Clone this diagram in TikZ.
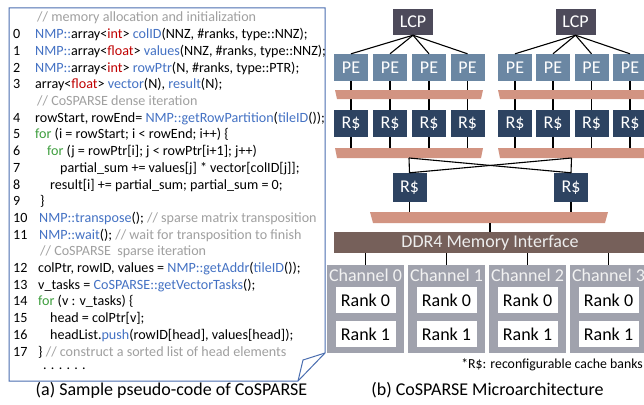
\documentclass[tikz,border=0pt]{standalone}
\usepackage{fontspec}
\setmainfont{Carlito}
\definecolor{cblue}{HTML}{4472C4}
\definecolor{cred}{HTML}{C00000}
\definecolor{cgreen}{HTML}{3E9E3E}
\definecolor{cgray}{HTML}{A0A0A0}
\definecolor{boxblue}{HTML}{4A6EB0}
\definecolor{lcpc}{HTML}{4D4A5A}
\definecolor{pec}{HTML}{6B87A3}
\definecolor{rcc}{HTML}{2D4361}
\definecolor{trapc}{HTML}{D29482}
\definecolor{ddrc}{HTML}{76605A}
\definecolor{chc}{HTML}{A0A2AD}
\newcommand\blu[1]{\textcolor{cblue}{#1}}
\newcommand\rd[1]{\textcolor{cred}{#1}}
\newcommand\grn[1]{\textcolor{cgreen}{#1}}
\newcommand\gry[1]{\textcolor{cgray}{#1}}
\tikzset{
  blk/.style={inner sep=0pt, text=white, font=\fontsize{18}{18}\selectfont},
  lcpbox/.style={blk, fill=lcpc, minimum width=40pt, minimum height=26pt},
  pebox/.style={blk, fill=pec, minimum width=34pt, minimum height=27pt},
  rcbox/.style={blk, fill=rcc, minimum width=34pt, minimum height=27pt},
  mrcbox/.style={blk, fill=rcc, minimum width=34pt, minimum height=29pt},
  codeline/.style={anchor=base west, inner sep=0pt, font=\fontsize{14.1}{16}\selectfont},
  wire/.style={draw=black, line width=1.1pt},
  trapfill/.style={fill=trapc},
  chanbox/.style={fill=chc, minimum width=77pt, minimum height=88pt, inner sep=0pt},
  chlab/.style={inner sep=0pt, text=white!95!black, font=\fontsize{18}{18}\selectfont},
  rankbox/.style={fill=white, minimum width=60pt, minimum height=26pt, inner sep=0pt, font=\fontsize{18}{18}\selectfont},
  captext/.style={inner sep=0pt, font=\fontsize{18}{18}\selectfont}
}
\begin{document}
\begin{tikzpicture}[x=1pt,y=-1pt]
\useasboundingbox (0,0) rectangle (644,404);
\clip (0,0) rectangle (644,404);
\fill[white] (0,0) rectangle (644,404);

% ---------- code box ----------
\draw[boxblue, line width=1pt] (9,8) -- (325,8) -- (325,353) -- (298,381) -- (9,381) -- cycle;
\draw[boxblue, line width=1pt] (298,381) -- (303,360) -- (325,353);

\node[codeline] (l0) at (37,22) {\gry{// memory allocation and initialization}};
\node[codeline] (n1) at (13,38.7) {0};
\node[codeline] (l1) at (35,38.7) {\blu{NMP::}array<\rd{int}> \blu{colID}(NNZ, \#ranks, type::NNZ);};
\node[codeline] (n2) at (13,55.4) {1};
\node[codeline] (l2) at (35,55.4) {\blu{NMP::}array<\rd{float}> \blu{values}(NNZ, \#ranks, type::NNZ);};
\node[codeline] (n3) at (13,72.1) {2};
\node[codeline] (l3) at (35,72.1) {\blu{NMP::}array<\rd{int}> \blu{rowPtr}(N, \#ranks, type::PTR);};
\node[codeline] (n4) at (13,88.8) {3};
\node[codeline] (l4) at (35,88.8) {array<\rd{float}> \blu{vector}(N), \blu{result}(N);};
\node[codeline] (l5) at (37,105.5) {\gry{// CoSPARSE dense iteration}};
\node[codeline] (n6) at (13,122.2) {4};
\node[codeline] (l6) at (35,122.2) {rowStart, rowEnd= \blu{NMP::getRowPartition}(\blu{tileID}());};
\node[codeline] (n7) at (13,138.9) {5};
\node[codeline] (l7) at (35,138.9) {\grn{for} (i = rowStart; i < rowEnd; i++) \{};
\node[codeline] (n8) at (13,155.6) {6};
\node[codeline] (l8) at (47,155.6) {\grn{for} (j = rowPtr[i]; j < rowPtr[i+1]; j++)};
\node[codeline] (n9) at (13,172.3) {7};
\node[codeline] (l9) at (60,172.3) {partial\_sum += values[j] * vector[colID[j]];};
\node[codeline] (n10) at (13,189) {8};
\node[codeline] (l10) at (50,189) {result[i] += partial\_sum; partial\_sum = 0;};
\node[codeline] (n11) at (13,205.7) {9};
\node[codeline] (l11) at (40,205.7) {\}};
\node[codeline] (n12) at (13,222.4) {10};
\node[codeline] (l12) at (39,222.4) {\blu{NMP::transpose}(); \gry{// sparse matrix transposition}};
\node[codeline] (n13) at (13,239.1) {11};
\node[codeline] (l13) at (39,239.1) {\blu{NMP::wait}(); \gry{// wait for transposition to finish}};
\node[codeline] (l14) at (40,255.8) {\gry{// CoSPARSE\ \ sparse iteration}};
\node[codeline] (n15) at (13,272.5) {12};
\node[codeline] (l15) at (38,272.5) {colPtr, rowID, values = \blu{NMP::getAddr}(\blu{tileID}());};
\node[codeline] (n16) at (13,289.2) {13};
\node[codeline] (l16) at (38,289.2) {v\_tasks = \blu{CoSPARSE::getVectorTasks}();};
\node[codeline] (n17) at (13,305.9) {14};
\node[codeline] (l17) at (38,305.9) {\grn{for} (v : v\_tasks) \{};
\node[codeline] (n18) at (13,322.6) {15};
\node[codeline] (l18) at (50,322.6) {head = colPtr[v];};
\node[codeline] (n19) at (13,339.3) {16};
\node[codeline] (l19) at (50,339.3) {headList.\blu{push}(rowID[head], values[head]);};
\node[codeline] (n20) at (13,356) {17};
\node[codeline] (l20) at (38,356) {\} \gry{// construct a sorted list of head elements}};
\node[codeline] (l21) at (43,369.5) {. . . . . .};

\node[captext] (capa) at (171.5,390) {(a) Sample pseudo-code of CoSPARSE};

% ---------- architecture ----------
\node[lcpbox] (lcpa) at (413,22) {LCP};
\node[lcpbox] (lcpb) at (575.5,22) {LCP};
\coordinate (ta) at (409,148);
\coordinate (tb) at (571.5,148);
\foreach \i/\x in {1/351,2/390,3/429,4/467.5} {
  \node[pebox] (pa\i) at (\x,67.5) {PE};
  \node[rcbox] (ra\i) at (\x,123.5) {R\$};
  \draw[wire] (lcpa.south) -- (pa\i.north);
  \draw[wire] (pa\i.south) -- (ra\i.north);
  \draw[wire] (ra\i.south) -- (ra\i.south |- ta);
}
\foreach \i/\x in {1/515,2/553,3/591.5,4/630} {
  \node[pebox] (pb\i) at (\x,67.5) {PE};
  \node[rcbox] (rb\i) at (\x,123.5) {R\$};
  \draw[wire] (lcpb.south) -- (pb\i.north);
  \draw[wire] (pb\i.south) -- (rb\i.north);
  \draw[wire] (rb\i.south) -- (rb\i.south |- tb);
}
% first row of crossbars
\fill[trapfill] (335,90) -- (483,90) -- (481,99) -- (337,99) -- cycle;
\fill[trapfill] (498,90) -- (647,90) -- (645,99) -- (500,99) -- cycle;
% second row of crossbars
\fill[trapfill] (335,148) -- (483,148) -- (481,158) -- (337,158) -- cycle;
\fill[trapfill] (498,148) -- (647,148) -- (645,158) -- (500,158) -- cycle;
\coordinate (tab) at (409,158);
\coordinate (tbb) at (571.5,158);

\node[mrcbox] (ma) at (409.5,187.5) {R\$};
\node[mrcbox] (mb) at (571,187.5) {R\$};
\draw[wire] (tab) -- (ma.north);
\draw[wire] (tbb) -- (mb.north);
\draw[wire] (tab) -- (mb.north);
\draw[wire] (tbb) -- (ma.north);

\coordinate (tc) at (490,212);
\coordinate (tcb) at (490,223);
\draw[wire] (ma.south) -- (ma.south |- tc);
\draw[wire] (mb.south) -- (mb.south |- tc);
\fill[trapfill] (370,212) -- (608,212) -- (605,223) -- (373,223) -- cycle;

\node[fill=ddrc, minimum width=312pt, minimum height=21pt, inner sep=0pt, text=white!93!black, font=\fontsize{18}{18}\selectfont] (ddr) at (490,242.5) {DDR4 Memory Interface};
\draw[wire] (tcb) -- (ddr.north);

\foreach \i/\x in {0/365.5,1/446.5,2/527.5,3/608.5} {
  \node[chanbox] (ch\i) at (\x,309) {};
  \node[chlab] (cl\i) at (\x,275.5) {Channel \i};
  \node[rankbox] (rk\i a) at (\x,300) {Rank 0};
  \node[rankbox] (rk\i b) at (\x,334) {Rank 1};
  \draw[wire] (ddr.south -| ch\i.north) -- (ch\i.north);
}

\node[anchor=east, inner sep=0pt, font=\fontsize{13.8}{14}\selectfont] (foot) at (643,365) {*R\$: reconfigurable cache banks};
\node[captext] (capb) at (487.5,390) {(b) CoSPARSE Microarchitecture};
\end{tikzpicture}
\end{document}
